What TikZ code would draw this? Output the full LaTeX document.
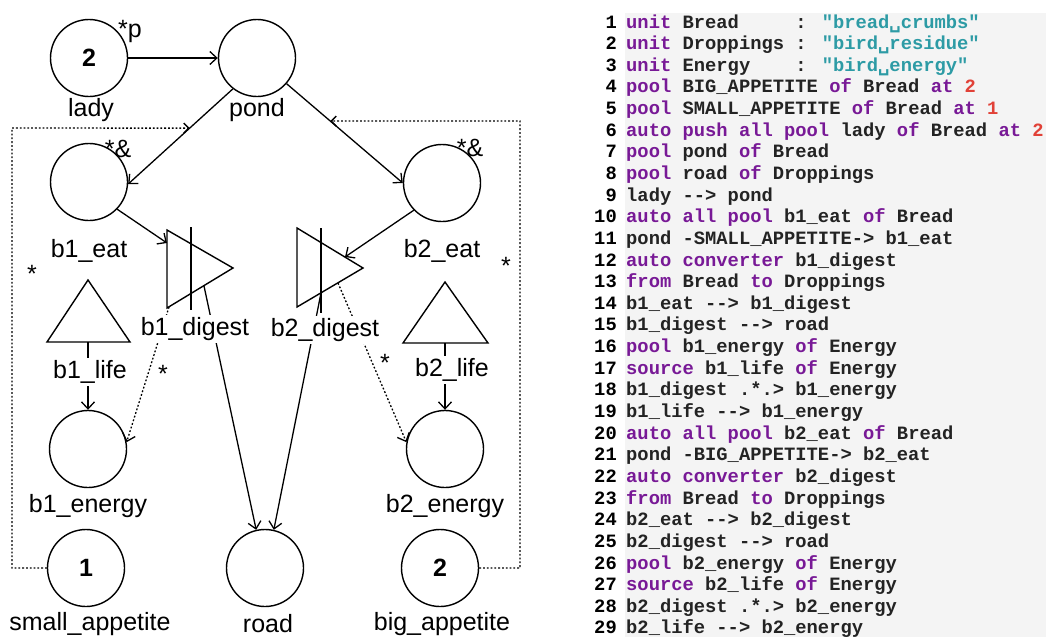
\documentclass[tikz,border=0pt]{standalone}
\usepackage{fontspec}
\setmainfont{Liberation Sans}
\newfontfamily\codefont{Liberation Mono}[Ligatures=TeXOff]
\newfontfamily\vsfont{DejaVu Sans Mono}
\usetikzlibrary{arrows.meta,calc}

\definecolor{kwc}{RGB}{120,25,150}
\definecolor{strc}{RGB}{45,155,165}
\definecolor{numc}{RGB}{225,65,55}
\definecolor{idc}{RGB}{35,35,35}
\definecolor{codebg}{RGB}{244,244,244}

% syntax colouring of the listing
\newcommand\kw[1]{\textcolor{kwc}{#1}}
\newcommand\strlit[1]{\textcolor{strc}{#1}}
\newcommand\numlit[1]{\textcolor{numc}{#1}}
\newcommand\vsp{{\vsfont ␣}}
% one numbered line of the listing
\newcommand\codeline[2]{%
  \node[lineno] (ln#1) at (617,{28+(#1-1)*21.64}) {#1};
  \node[codetext] (cl#1) at (626,{28+(#1-1)*21.64}) {#2};}

\begin{document}
\begin{tikzpicture}[x=1pt,y=-1pt,
  pool/.style={circle,draw,line width=1.4pt,minimum size=77pt,inner sep=0pt,
    font=\fontsize{25}{28}\selectfont\bfseries},
  lbl/.style={font=\fontsize{25}{28}\selectfont,inner sep=1pt},
  cut/.style={lbl,fill=white,inner sep=2pt},
  starlbl/.style={font=\fontsize{25}{28}\selectfont,inner sep=0pt,anchor=base},
  flow/.style={line width=1.3pt,-{Straight Barb[length=7pt,width=13pt]}},
  hint/.style={flow,dash pattern=on 1.8pt off 2pt},
  figline/.style={line width=1.4pt,line join=miter},
  boxline/.style={line width=1.4pt,dash pattern=on 1.8pt off 2pt,
    -{Straight Barb[length=5pt,width=10pt]}},
  lineno/.style={anchor=base east,inner sep=0pt,text=black,
    font={\codefont\bfseries\fontsize{18.8}{21}\selectfont}},
  codetext/.style={anchor=base west,inner sep=0pt,text=idc,
    font={\codefont\bfseries\fontsize{18.8}{21}\selectfont}}
]
\useasboundingbox (0,0) rectangle (1046,637);
\fill[white] (0,0) rectangle (1046,637);
\fill[codebg] (625,13) rectangle (1046,637);

% pools
\node[pool] (lady) at (89,58) {2};
\node[pool] (pond) at (257,58) {};
\node[pool] (b1eat) at (89,182) {};
\node[pool] (b2eat) at (442,183) {};
\node[pool] (b1energy) at (88,449) {};
\node[pool] (b2energy) at (445,449) {};
\node[pool] (small) at (86,568) {1};
\node[pool] (road) at (265,568) {};
\node[pool] (big) at (440,568) {2};

% converters
\draw[figline] (167,230) -- (233,268) -- (167,308) -- cycle;
\draw[figline] (191,227) -- (191,310);
\draw[figline] (297,228) -- (363,268) -- (297,307) -- cycle;
\draw[figline] (321,228) -- (321,313);
\coordinate (b1in) at (167,243);
\coordinate (b1out) at (204,286);
\coordinate (b1hint) at (169,307);
\coordinate (b2in) at (345,257);
\coordinate (b2out) at (321,293);
\coordinate (b2hint) at (338,283);

% sources
\draw[figline] (47,342) -- (88,280) -- (130,342) -- cycle;
\draw[figline] (403,343) -- (445,282) -- (488,343) -- cycle;
\coordinate (b1life) at (88,342);
\coordinate (b2life) at (445,343);

% flows
\draw[flow] (lady) -- (pond);
\draw[flow] (pond.-128) -- (b1eat.-3);
\draw[flow] (pond.-41) -- (b2eat.180);
\draw[flow] (b1eat.-44) -- (b1in);
\draw[flow] (b2eat.-136) -- (b2in);
\draw[flow] (b1out) -- (road.103);
\draw[flow] (b2out) -- (road.77);
\draw[hint] (b1hint) -- (b1energy.10);
\draw[hint] (b2hint) -- (b2energy.170);
\draw[flow] (b1life) -- (b1energy.north);
\draw[flow] (b2life) -- (b2energy.north);

% activator links from the appetite pools
\coordinate (ltip) at ($(pond.-128)!0.412!(b1eat.-3)$);
\coordinate (rtip) at ($(pond.-41)!0.376!(b2eat.180)$);
\coordinate (boxTL) at (12,128);
\coordinate (boxTR) at (520,121);
\draw[boxline] (small.west) -| (boxTL) -- (ltip);
\draw[boxline] (big.east) -| (boxTR) -- (rtip);

% labels
\node[lbl] (ladyl) at (91,110) {lady};
\node[lbl] (pondl) at (257,110) {pond};
\node[lbl] (b1eatl) at (89,251) {b1\_eat};
\node[lbl] (b2eatl) at (442,251) {b2\_eat};
\node[cut] (b1dl) at (195,329) {b1\_digest};
\node[cut] (b2dl) at (325,330) {b2\_digest};
\node[cut] (b1ll) at (90,372) {b1\_life};
\node[cut] (b2ll) at (452,370) {b2\_life};
\node[lbl] (b1el) at (88,506) {b1\_energy};
\node[lbl] (b2el) at (445,506) {b2\_energy};
\node[lbl] (smalll) at (90,624) {small\_appetite};
\node[lbl] (roadl) at (268,624) {road};
\node[lbl] (bigl) at (442,624) {big\_appetite};

% modifiers
\node[starlbl] (ladystar) at (130,37) {*p};
\node[starlbl] (b1star) at (118,157) {*\&};
\node[starlbl] (b2star) at (470,156) {*\&};
\node[starlbl] (lstar) at (32,282) {*};
\node[starlbl] (rstar) at (506,274) {*};
\node[starlbl] (b1hstar) at (163,382) {*};
\node[starlbl] (b2hstar) at (385,371) {*};

% listing
\codeline{1}{\kw{unit} Bread~~~~~: \strlit{"bread\vsp crumbs"}}
\codeline{2}{\kw{unit} Droppings : \strlit{"bird\vsp residue"}}
\codeline{3}{\kw{unit} Energy~~~~: \strlit{"bird\vsp energy"}}
\codeline{4}{\kw{pool} BIG\_APPETITE \kw{of} Bread \kw{at} \numlit{2}}
\codeline{5}{\kw{pool} SMALL\_APPETITE \kw{of} Bread \kw{at} \numlit{1}}
\codeline{6}{\kw{auto push all pool} lady \kw{of} Bread \kw{at} \numlit{2}}
\codeline{7}{\kw{pool} pond \kw{of} Bread}
\codeline{8}{\kw{pool} road \kw{of} Droppings}
\codeline{9}{lady --> pond}
\codeline{10}{\kw{auto all pool} b1\_eat \kw{of} Bread}
\codeline{11}{pond -SMALL\_APPETITE-> b1\_eat}
\codeline{12}{\kw{auto converter} b1\_digest}
\codeline{13}{\kw{from} Bread \kw{to} Droppings}
\codeline{14}{b1\_eat --> b1\_digest}
\codeline{15}{b1\_digest --> road}
\codeline{16}{\kw{pool} b1\_energy \kw{of} Energy}
\codeline{17}{\kw{source} b1\_life \kw{of} Energy}
\codeline{18}{b1\_digest .*.> b1\_energy}
\codeline{19}{b1\_life --> b1\_energy}
\codeline{20}{\kw{auto all pool} b2\_eat \kw{of} Bread}
\codeline{21}{pond -BIG\_APPETITE-> b2\_eat}
\codeline{22}{\kw{auto converter} b2\_digest}
\codeline{23}{\kw{from} Bread \kw{to} Droppings}
\codeline{24}{b2\_eat --> b2\_digest}
\codeline{25}{b2\_digest --> road}
\codeline{26}{\kw{pool} b2\_energy \kw{of} Energy}
\codeline{27}{\kw{source} b2\_life \kw{of} Energy}
\codeline{28}{b2\_digest .*.> b2\_energy}
\codeline{29}{b2\_life --> b2\_energy}
\end{tikzpicture}
\end{document}
